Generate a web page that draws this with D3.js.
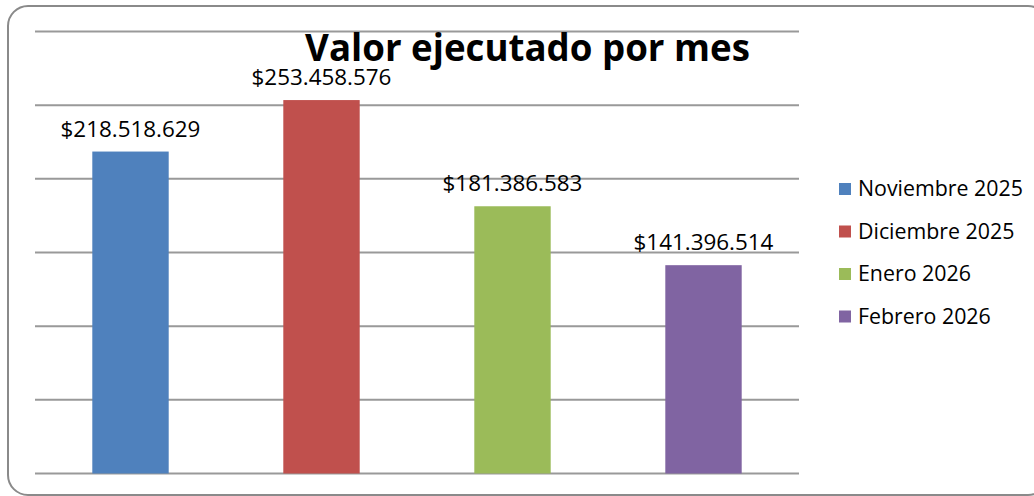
<!DOCTYPE html>
<html>
<head>
<meta charset="utf-8">
<script src="https://cdn.jsdelivr.net/npm/d3@7"></script>
<style>
  html, body { margin: 0; padding: 0; background: #fff; }
  svg { display: block; }
</style>
</head>
<body>
<svg id="chart" width="1034" height="496"></svg>
<script>
// Monthly executed amounts
const months = ["Noviembre 2025", "Diciembre 2025", "Enero 2026", "Febrero 2026"];
const values = [218518629, 253458576, 181386583, 141396514];
const colors = ["#4F81BD", "#C0504D", "#9BBB59", "#8064A2"];
const gridTicks = [0, 50000000, 100000000, 150000000, 200000000, 250000000, 300000000];
const title = "Valor ejecutado por mes";

const svg = d3.select("#chart");

// Rounded frame
svg.append("rect")
  .attr("x", 8).attr("y", 6)
  .attr("width", 1040).attr("height", 489)
  .attr("rx", 20).attr("ry", 20)
  .attr("fill", "#fff")
  .attr("stroke", "#8a8a8a")
  .attr("stroke-width", 2);

const plot = { left: 35, right: 799, top: 31.5, bottom: 473.5 };

const x = d3.scaleBand()
  .domain(months)
  .range([plot.left, plot.right])
  .paddingInner(0.6)
  .paddingOuter(0.3);

const y = d3.scaleLinear()
  .domain([0, 300000000])
  .range([plot.bottom, plot.top]);

// Horizontal gridlines
svg.append("g")
  .selectAll("line")
  .data(gridTicks)
  .join("line")
  .attr("x1", plot.left).attr("x2", plot.right)
  .attr("y1", d => y(d)).attr("y2", d => y(d))
  .attr("stroke", "#999")
  .attr("stroke-width", 2);

// Bars
svg.append("g")
  .selectAll("rect")
  .data(values)
  .join("rect")
  .attr("x", (d, i) => x(months[i]))
  .attr("width", x.bandwidth())
  .attr("y", d => y(d))
  .attr("height", d => y(0) - y(d))
  .attr("fill", (d, i) => colors[i]);

// Font size that makes a sample string span a given width
function fitSize(family, weight, sample, targetWidth) {
  const t = svg.append("text")
    .attr("font-family", family)
    .attr("font-weight", weight)
    .attr("font-size", 100)
    .text(sample);
  const w = t.node().getComputedTextLength();
  t.remove();
  return 100 * targetWidth / w;
}

const fmt = v => "$" + d3.format(",")(v).replace(/,/g, ".");
const labelFont = "'Open Sans', 'Noto Sans', sans-serif";
const labelSize = fitSize(labelFont, 400, fmt(values[0]), 140);

// Value labels above bars
svg.append("g")
  .selectAll("text")
  .data(values)
  .join("text")
  .attr("x", (d, i) => x(months[i]) + x.bandwidth() / 2)
  .attr("y", d => y(d) - 15)
  .attr("text-anchor", "middle")
  .attr("font-family", labelFont)
  .attr("font-size", labelSize)
  .attr("fill", "#000")
  .text(d => fmt(d));

// Title
const titleSize = fitSize(labelFont, 700, title, 445);
svg.append("text")
  .attr("x", 527.5)
  .attr("y", 61)
  .attr("text-anchor", "middle")
  .attr("font-family", labelFont)
  .attr("font-weight", 700)
  .attr("font-size", titleSize)
  .attr("fill", "#000")
  .text(title);

// Legend
const legendSize = fitSize(labelFont, 400, months[0], 165);
const legend = svg.append("g")
  .selectAll("g")
  .data(months)
  .join("g")
  .attr("transform", (d, i) => `translate(839, ${196 + i * 42.5})`);

legend.append("rect")
  .attr("x", 0).attr("y", -13)
  .attr("width", 12).attr("height", 12)
  .attr("fill", (d, i) => colors[i]);

legend.append("text")
  .attr("x", 19).attr("y", 0)
  .attr("font-family", labelFont)
  .attr("font-size", legendSize)
  .attr("fill", "#000")
  .text(d => d);
</script>
</body>
</html>
